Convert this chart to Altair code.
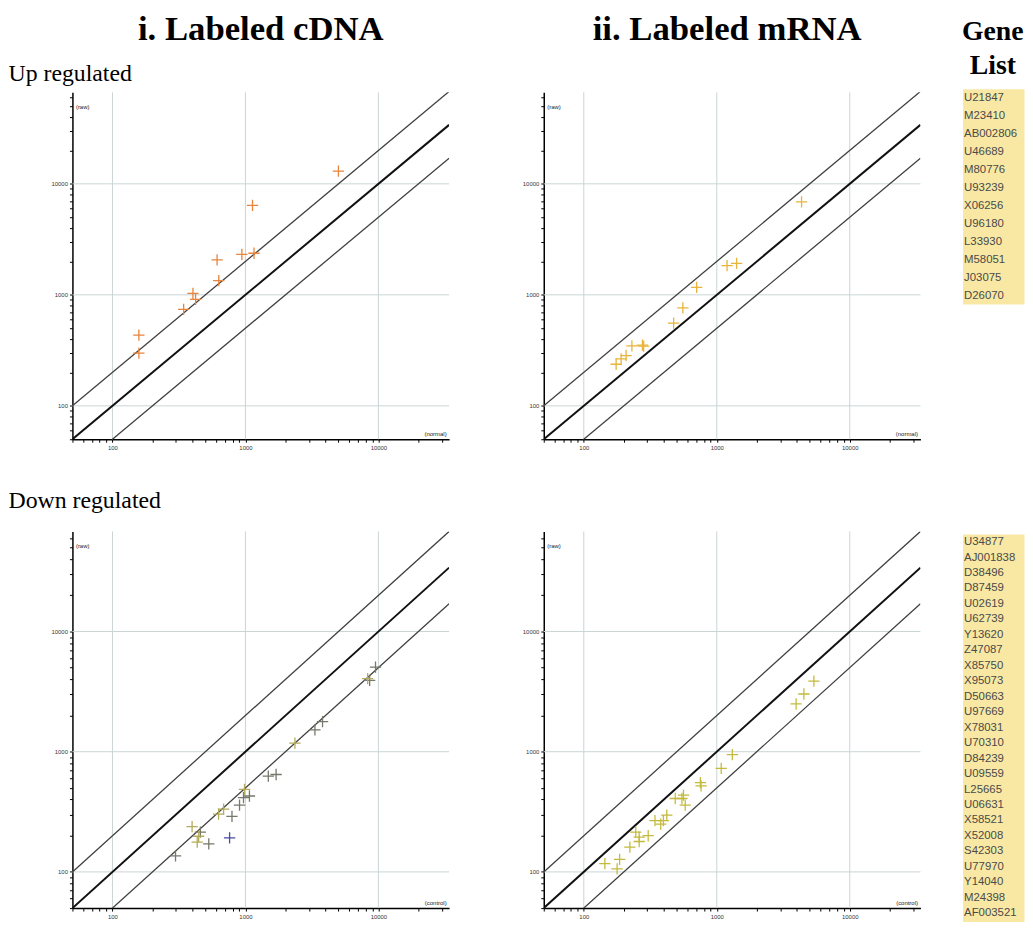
import altair as alt
import pandas as pd

# ---------------- data ----------------
# i. Labeled cDNA - up regulated
cdna_up_x = [5000, 1130, 940, 1160, 612, 630, 403, 422, 343, 158, 158]
cdna_up_y = [13000, 6400, 2320, 2370, 2065, 1345, 1030, 910, 740, 433, 299]

# ii. Labeled mRNA - up regulated
mrna_up_x = [4340, 1195, 1410, 706, 556, 474, 276, 282, 230, 208, 191, 175]
mrna_up_y = [6890, 1830, 1920, 1170, 763, 556, 352, 345, 347, 284, 265, 237]

# i. Labeled cDNA - down regulated
cdna_dn_x = [9510, 8590, 8300, 3800, 3330, 2355, 1700, 1486, 1072, 967, 984,
             903, 792, 685, 628, 760, 530, 397, 458, 445, 434, 298]
cdna_dn_y = [5050, 3925, 4050, 1780, 1520, 1180, 646, 626, 428, 415, 486,
             359, 290, 333, 303, 192, 171, 238, 214, 198, 177, 136]
cdna_dn_c = ["g", "g", "y", "g", "g", "y", "g", "g", "g", "g", "y",
             "g", "g", "y", "y", "b", "g", "y", "g", "y", "y", "g"]

# ii. Labeled mRNA - down regulated
mrna_dn_x = [5375, 4520, 3950, 1310, 1080, 753, 762, 562, 547, 487, 579, 421,
             397, 343, 379, 305, 261, 246, 261, 222, 186, 178, 144]
mrna_dn_y = [3870, 3020, 2495, 946, 726, 553, 519, 435, 408, 408, 359, 297,
             267, 267, 250, 200, 179, 214, 195, 161, 127, 106, 117]

genes_up = ["U21847", "M23410", "AB002806", "U46689", "M80776", "U93239",
            "X06256", "U96180", "L33930", "M58051", "J03075", "D26070"]
genes_down = ["U34877", "AJ001838", "D38496", "D87459", "U02619", "U62739",
              "Y13620", "Z47087", "X85750", "X95073", "D50663", "U97669",
              "X78031", "U70310", "D84239", "U09559", "L25665", "U06631",
              "X58521", "X52008", "S42303", "U77970", "Y14040", "M24398",
              "AF003521"]

decades = [100, 1000, 10000]
fold_lines = [0.5, 1, 2]
line_x_ends = [50, 34000]
x_ticks = [50, 60, 70, 80, 90, 100, 200, 300, 400, 500, 600, 700, 800, 900,
           1000, 2000, 3000, 4000, 5000, 6000, 7000, 8000, 9000, 10000,
           20000, 30000]
y_ticks = x_ticks + [40000, 50000, 60000]

# ---------------- styling ----------------
PW = 380
COL_GAP = 95.5
GENE_W = 8
GENE_X0 = -52.5          # gene box starts left of its (narrow) cell
GENE_X1 = 9.5
GRID = "#c9d5d5"
CROSS = "M-1,0L1,0M0,-1L0,1"
LABEL_EXPR = "indexof([100,1000,10000], datum.value) >= 0 ? format(datum.value,'d') : ''"


def x_axis(title):
    return alt.Axis(values=x_ticks, labelExpr=LABEL_EXPR, labelFontSize=6,
                    labelColor="#333", labelPadding=2, labelOverlap=False,
                    labelFlush=False, tickSize=3, tickColor="black", tickWidth=1,
                    domainColor="black", domainWidth=1.5, grid=False,
                    title=title, titleFontSize=6, titleFontWeight="normal",
                    titleColor="#222", titleX=PW - 3, titleY=-3,
                    titleAlign="right", titleBaseline="bottom")


def y_axis():
    return alt.Axis(values=y_ticks, labelExpr=LABEL_EXPR, labelFontSize=6,
                    labelColor="#333", labelPadding=2, labelOverlap=False,
                    labelFlush=False, tickSize=3, tickColor="black", tickWidth=1,
                    domainColor="black", domainWidth=1.5, grid=False,
                    title="(raw)", titleFontSize=6, titleFontWeight="normal",
                    titleColor="#222", titleAngle=0, titleX=3, titleY=14,
                    titleAlign="left", titleBaseline="middle")


def text_layer(txt, x, y, size, weight="normal", font="Liberation Serif",
               align="left"):
    return alt.Chart(pd.DataFrame({"t": [txt]})).mark_text(
        font=font, fontSize=size, fontWeight=weight, align=align,
        baseline="alphabetic", color="black"
    ).encode(text="t:N", x=alt.value(x), y=alt.value(y))


def panel(xs, ys, colors, h, ydom, xtitle, extra):
    xsc = alt.Scale(type="log", domain=[50, 34000], nice=False)
    ysc = alt.Scale(type="log", domain=ydom, nice=False)
    xa, ya = x_axis(xtitle), y_axis()
    dec = pd.DataFrame({"v": decades})
    gx = alt.Chart(dec).mark_rule(color=GRID, strokeWidth=1).encode(
        x=alt.X("v:Q", scale=xsc, axis=xa))
    gy = alt.Chart(dec).mark_rule(color=GRID, strokeWidth=1).encode(
        y=alt.Y("v:Q", scale=ysc, axis=ya))
    ld = pd.DataFrame([{"fold": f, "x": xv} for f in fold_lines for xv in line_x_ends])
    ld["sw"] = [2.0 if f == 1 else 1.3 for f in ld["fold"]]
    ld["col"] = ["#111111" if f == 1 else "#404040" for f in ld["fold"]]
    lines = alt.Chart(ld).transform_calculate(y="datum.fold * datum.x").mark_line(
        clip=True).encode(
        x=alt.X("x:Q", scale=xsc, axis=xa),
        y=alt.Y("y:Q", scale=ysc, axis=ya),
        detail="fold:N",
        color=alt.Color("col:N", scale=None),
        strokeWidth=alt.StrokeWidth("sw:Q", scale=None))
    pts = pd.DataFrame({"x": xs, "y": ys, "c": colors})
    points = alt.Chart(pts).mark_point(shape=CROSS, size=130, filled=False,
                                       strokeWidth=1.3, opacity=1).encode(
        x=alt.X("x:Q", scale=xsc, axis=xa),
        y=alt.Y("y:Q", scale=ysc, axis=ya),
        color=alt.Color("c:N", scale=None))
    return alt.layer(gx, gy, lines, points, *extra).properties(width=PW, height=h)


def gene_panel(genes, h, top, step, box_bottom, extra):
    n = len(genes)
    lo = -(top + step / 2) / step
    hi = lo + h / step
    box = alt.Chart(pd.DataFrame({"a": [0]})).mark_rect(color="#f8e8a3").encode(
        x=alt.value(GENE_X0), x2=alt.value(GENE_X1),
        y=alt.value(top), y2=alt.value(box_bottom))
    gd = pd.DataFrame({"g": genes, "i": list(range(n))})
    txt = alt.Chart(gd).mark_text(align="left", baseline="middle",
                                  font="Liberation Sans", fontSize=11.5,
                                  color="#4a4a4a").encode(
        x=alt.value(GENE_X0 + 1),
        y=alt.Y("i:Q", scale=alt.Scale(domain=[lo, hi], reverse=True, zero=False,
                                       nice=False), axis=None),
        text="g:N")
    return alt.layer(box, txt, *extra).properties(width=GENE_W, height=h)


dn_colors = {"g": "#77776b", "y": "#b4ab5a", "b": "#4a4aa6"}

anchor = alt.Chart(pd.DataFrame({"a": [0]})).mark_rect(opacity=0).encode(
    x=alt.value(-64.5), x2=alt.value(-60), y=alt.value(-80), y2=alt.value(-75))

ul = panel(cdna_up_x, cdna_up_y, ["#e8843c"] * len(cdna_up_x), 350, [50, 66800],
           "(normal)",
           [anchor,
            text_layer("i. Labeled cDNA", 190, -53, 35, "bold", align="center"),
            text_layer("Up regulated", -64.5, -11, 24)])
ur = panel(mrna_up_x, mrna_up_y, ["#e8b43a"] * len(mrna_up_x), 350, [50, 66800],
           "(normal)",
           [text_layer("ii. Labeled mRNA", 185, -53, 35, "bold", align="center")])
dl = panel(cdna_dn_x, cdna_dn_y, [dn_colors[c] for c in cdna_dn_c], 380,
           [50, 68000], "(control)",
           [text_layer("Down regulated", -64.5, -24, 24)])
dr = panel(mrna_dn_x, mrna_dn_y, ["#c4bb3e"] * len(mrna_dn_x), 380, [50, 68000],
           "(control)", [])

gu = gene_panel(genes_up, 350, -3, 18.1, 214,
                [text_layer("Gene", GENE_X0 + 30, -53, 28, "bold", align="center"),
                 text_layer("List", GENE_X0 + 30, -18, 28, "bold", align="center")])
gdn = gene_panel(genes_down, 380, 3, 15.6, 394, [])

chart = alt.concat(ul, ur, gu, dl, dr, gdn, columns=3, bounds="flush",
                   spacing={"row": 93, "column": COL_GAP}).properties(
    padding=0, background="white"
).configure_view(stroke=None)

chart.save("out.html", embed_options={"renderer": "svg", "actions": False})
